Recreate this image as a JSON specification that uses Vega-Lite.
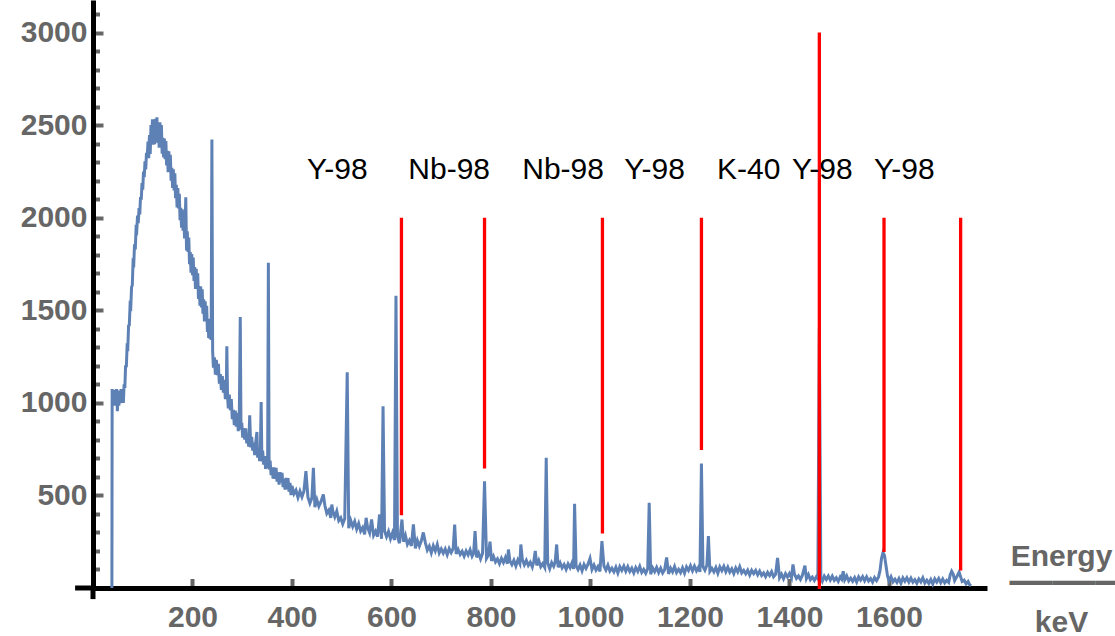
{
  "$schema": "https://vega.github.io/schema/vega-lite/v6.json",
  "width": 894,
  "height": 588,
  "autosize": "none",
  "padding": {"left": 93, "top": 0, "right": 128, "bottom": 48},
  "background": "white",
  "config": {"view": {"stroke": null}},
  "datasets": {
    "spectrum": [
      {"energy":38,"counts":0},{"energy":38.5,"counts":1075},{"energy":40,"counts":994},{"energy":41.5,"counts":1057},{"energy":43,"counts":985},{"energy":44.5,"counts":1070},{"energy":46,"counts":1008},{"energy":47.5,"counts":1075},{"energy":49,"counts":955},{"energy":50.5,"counts":1048},{"energy":52,"counts":985},{"energy":53.5,"counts":1066},{"energy":55,"counts":998},{"energy":56.5,"counts":1075},{"energy":58,"counts":1004},{"energy":59.5,"counts":1070},{"energy":61,"counts":1000},{"energy":62.5,"counts":1100},{"energy":64,"counts":1080},
      {"energy":65.5,"counts":1203},{"energy":67,"counts":1193},{"energy":68.5,"counts":1303},{"energy":70,"counts":1298},{"energy":71.5,"counts":1417},{"energy":73,"counts":1420},{"energy":74.5,"counts":1527},{"energy":76,"counts":1520},{"energy":77.5,"counts":1625},{"energy":79,"counts":1635},{"energy":80.5,"counts":1760},{"energy":82,"counts":1754},{"energy":83.5,"counts":1856},{"energy":85,"counts":1829},{"energy":86.5,"counts":1937},{"energy":88,"counts":1930},{"energy":89.5,"counts":2011},{"energy":91,"counts":1971},{"energy":92.5,"counts":2052},{"energy":94,"counts":2018},{"energy":95.5,"counts":2112},{"energy":97,"counts":2097},{"energy":98.5,"counts":2187},{"energy":100,"counts":2152},{"energy":101.5,"counts":2249},{"energy":103,"counts":2219},{"energy":104.5,"counts":2305},{"energy":106,"counts":2261},{"energy":107.5,"counts":2351},{"energy":109,"counts":2323},{"energy":110.5,"counts":2412},
      {"energy":112,"counts":2321},{"energy":113.5,"counts":2446},{"energy":115,"counts":2345},{"energy":116.5,"counts":2500},{"energy":118,"counts":2406},{"energy":119.5,"counts":2531},{"energy":121,"counts":2395},{"energy":122.5,"counts":2498},{"energy":124,"counts":2397},{"energy":125.5,"counts":2534},{"energy":127,"counts":2418},{"energy":128.5,"counts":2543},{"energy":130,"counts":2405},{"energy":131.5,"counts":2504},{"energy":133,"counts":2378},{"energy":134.5,"counts":2515},{"energy":136,"counts":2399},{"energy":137.5,"counts":2500},{"energy":139,"counts":2346},{"energy":140.5,"counts":2432},
      {"energy":142,"counts":2325},{"energy":143.5,"counts":2428},{"energy":145,"counts":2316},{"energy":146.5,"counts":2414},{"energy":148,"counts":2283},{"energy":149.5,"counts":2362},{"energy":151,"counts":2246},{"energy":152.5,"counts":2359},{"energy":154,"counts":2255},{"energy":155.5,"counts":2340},{"energy":157,"counts":2200},{"energy":158.5,"counts":2269},{"energy":160,"counts":2161},{"energy":161.5,"counts":2262},{"energy":163,"counts":2147},{"energy":164.5,"counts":2240},{"energy":166,"counts":2105},{"energy":167.5,"counts":2178},{"energy":169,"counts":2055},{"energy":170.5,"counts":2160},{"energy":172,"counts":2050},{"energy":173.5,"counts":2129},{"energy":175,"counts":1986},{"energy":176.5,"counts":2054},{"energy":178,"counts":1946},{"energy":179.5,"counts":2046},{"energy":181,"counts":1930},{"energy":182.5,"counts":2024},{"energy":184,"counts":1888},{"energy":185,"counts":1947},{"energy":186.5,"counts":2110},{"energy":188,"counts":1823},{"energy":189.5,"counts":1927},{"energy":191,"counts":1815},{"energy":192.5,"counts":1893},{"energy":194,"counts":1749},{"energy":195.5,"counts":1815},{"energy":197,"counts":1703},{"energy":198.5,"counts":1804},{"energy":200,"counts":1690},{"energy":201.5,"counts":1785},{"energy":203,"counts":1658},{"energy":204.5,"counts":1734},{"energy":206,"counts":1615},{"energy":207.5,"counts":1724},{"energy":209,"counts":1617},{"energy":210.5,"counts":1700},{"energy":212,"counts":1561},{"energy":213.5,"counts":1631},{"energy":215,"counts":1525},{"energy":216.5,"counts":1628},{"energy":218,"counts":1516},{"energy":219.5,"counts":1613},{"energy":221,"counts":1482},{"energy":222.5,"counts":1559},{"energy":224,"counts":1440},{"energy":225.5,"counts":1549},{"energy":227,"counts":1442},{"energy":228.5,"counts":1524},{"energy":230,"counts":1383},{"energy":231.5,"counts":1446},{"energy":232.5,"counts":1351},{"energy":233.5,"counts":1454},{"energy":235,"counts":1346},{"energy":236.5,"counts":1433},{"energy":237.5,"counts":1340},{"energy":239,"counts":2422},{"energy":240.5,"counts":1280},
      {"energy":242,"counts":1190},{"energy":244,"counts":1246},{"energy":246,"counts":1152},{"energy":248,"counts":1232},{"energy":250,"counts":1149},{"energy":252,"counts":1211},{"energy":254,"counts":1103},{"energy":256,"counts":1155},{"energy":258,"counts":1070},{"energy":260,"counts":1145},{"energy":262,"counts":1055},{"energy":264,"counts":1125},{"energy":266,"counts":1020},{"energy":268,"counts":1075},{"energy":269,"counts":1306},{"energy":270.5,"counts":1030},{"energy":272,"counts":970},{"energy":274,"counts":1045},{"energy":276,"counts":960},{"energy":278,"counts":1021},{"energy":280,"counts":912},{"energy":282,"counts":962},{"energy":284,"counts":879},{"energy":286,"counts":958},{"energy":288,"counts":871},{"energy":290,"counts":946},{"energy":292,"counts":847},{"energy":294,"counts":908},{"energy":296,"counts":1464},{"energy":297.5,"counts":855},
      {"energy":299,"counts":892},{"energy":301,"counts":812},{"energy":303,"counts":864},{"energy":305,"counts":802},{"energy":307,"counts":862},{"energy":309,"counts":781},{"energy":311,"counts":823},{"energy":313,"counts":763},{"energy":315,"counts":933},{"energy":317,"counts":759},{"energy":319,"counts":817},{"energy":321,"counts":742},{"energy":323,"counts":785},{"energy":325,"counts":718},{"energy":327,"counts":784},{"energy":329.5,"counts":843},{"energy":331,"counts":704},{"energy":333,"counts":746},{"energy":335,"counts":686},{"energy":336.5,"counts":749},{"energy":338,"counts":1005},{"energy":339.5,"counts":683},{"energy":341,"counts":742},{"energy":343,"counts":666},{"energy":345,"counts":712},{"energy":347,"counts":644},{"energy":349,"counts":709},{"energy":351,"counts":649},{"energy":352.5,"counts":1757},{"energy":354,"counts":640},{"energy":356,"counts":688},{"energy":358,"counts":609},{"energy":360,"counts":651},{"energy":362,"counts":591},{"energy":364,"counts":652},{"energy":366,"counts":589},{"energy":368,"counts":649},{"energy":370,"counts":575},{"energy":372,"counts":624},{"energy":374,"counts":558},{"energy":376,"counts":626},{"energy":378,"counts":569},{"energy":380,"counts":622},{"energy":382,"counts":545},{"energy":384,"counts":590},{"energy":386,"counts":532},{"energy":388,"counts":595},{"energy":390,"counts":533},{"energy":392,"counts":593},{"energy":394,"counts":520},{"energy":396,"counts":568},{"energy":398,"counts":502},
      {"energy":400,"counts":551},{"energy":404,"counts":509},{"energy":408,"counts":528},{"energy":412,"counts":489},{"energy":416,"counts":523},{"energy":420,"counts":492},{"energy":424,"counts":523},{"energy":428,"counts":631},{"energy":432,"counts":491},{"energy":436,"counts":458},{"energy":440,"counts":487},{"energy":443,"counts":649},{"energy":446,"counts":437},{"energy":450,"counts":477},{"energy":454,"counts":441},{"energy":458,"counts":465},{"energy":463,"counts":505},{"energy":466,"counts":447},{"energy":470,"counts":403},{"energy":474,"counts":420},{"energy":478,"counts":379},{"energy":480,"counts":451},{"energy":482,"counts":416},{"energy":486,"counts":384},{"energy":490,"counts":415},{"energy":494,"counts":364},{"energy":498,"counts":379},{"energy":502,"counts":346},{"energy":506,"counts":374},{"energy":511,"counts":1165},{"energy":514,"counts":323},{"energy":518,"counts":365},{"energy":522,"counts":332},{"energy":526,"counts":360},{"energy":530,"counts":318},{"energy":534,"counts":348},{"energy":538,"counts":307},{"energy":542,"counts":326},{"energy":546,"counts":290},{"energy":549,"counts":379},{"energy":552,"counts":326},{"energy":556,"counts":298},{"energy":560,"counts":370},{"energy":564,"counts":284},{"energy":568,"counts":306},{"energy":572,"counts":277},{"energy":576,"counts":397},{"energy":580,"counts":266},{"energy":583,"counts":982},{"energy":586,"counts":308},{"energy":590,"counts":277},{"energy":594,"counts":306},{"energy":598,"counts":266},{"energy":602,"counts":298},{"energy":606,"counts":259},{"energy":609,"counts":1579},{"energy":612,"counts":278},{"energy":616,"counts":242},{"energy":621,"counts":370},{"energy":624,"counts":250},{"energy":628,"counts":284},{"energy":632,"counts":236},{"energy":636,"counts":257},{"energy":640,"counts":227},{"energy":644,"counts":343},{"energy":648,"counts":214},{"energy":652,"counts":257},{"energy":656,"counts":226},{"energy":660,"counts":255},{"energy":664,"counts":300},{"energy":668,"counts":245},{"energy":672,"counts":205},{"energy":676,"counts":226},{"energy":680,"counts":190},{"energy":684,"counts":228},{"energy":688,"counts":200},{"energy":692,"counts":235},{"energy":696,"counts":189},{"energy":700,"counts":211},
      {"energy":704,"counts":188},{"energy":708,"counts":211},{"energy":712,"counts":180},{"energy":716,"counts":213},{"energy":720,"counts":191},{"energy":724,"counts":214},{"energy":727,"counts":343},{"energy":730,"counts":184},{"energy":734,"counts":208},{"energy":738,"counts":181},{"energy":742,"counts":198},{"energy":746,"counts":172},{"energy":750,"counts":200},{"energy":754,"counts":179},{"energy":758,"counts":206},{"energy":762,"counts":171},{"energy":765,"counts":187},{"energy":768,"counts":307},{"energy":771,"counts":166},{"energy":775,"counts":189},{"energy":779,"counts":157},{"energy":783,"counts":187},{"energy":787,"counts":577},{"energy":791,"counts":160},{"energy":795,"counts":180},{"energy":798,"counts":250},{"energy":801,"counts":147},{"energy":805,"counts":171},{"energy":809,"counts":141},{"energy":813,"counts":157},{"energy":817,"counts":131},{"energy":821,"counts":160},{"energy":825,"counts":138},{"energy":829,"counts":165},{"energy":833,"counts":131},{"energy":835,"counts":208},{"energy":838,"counts":146},{"energy":842,"counts":126},{"energy":846,"counts":150},{"energy":850,"counts":119},{"energy":854,"counts":152},{"energy":858,"counts":131},{"energy":860,"counts":235},{"energy":863,"counts":154},{"energy":867,"counts":125},{"energy":871,"counts":149},{"energy":875,"counts":122},{"energy":879,"counts":139},{"energy":883,"counts":113},{"energy":886,"counts":143},{"energy":889,"counts":200},{"energy":892,"counts":122},{"energy":896,"counts":149},{"energy":900,"counts":115},{"energy":904,"counts":131},{"energy":908,"counts":111},{"energy":911,"counts":703},{"energy":914,"counts":134},{"energy":918,"counts":104},{"energy":922,"counts":137},{"energy":926,"counts":117},{"energy":929,"counts":140},{"energy":932,"counts":235},{"energy":935,"counts":112},{"energy":939,"counts":136},{"energy":943,"counts":109},{"energy":947,"counts":127},{"energy":951,"counts":101},{"energy":955,"counts":130},{"energy":959,"counts":110},{"energy":963,"counts":137},{"energy":966,"counts":103},{"energy":968,"counts":455},{"energy":971,"counts":120},{"energy":975,"counts":100},{"energy":979,"counts":124},{"energy":983,"counts":93},{"energy":987,"counts":127},{"energy":991,"counts":106},{"energy":995,"counts":129},{"energy":999,"counts":160},{"energy":1003,"counts":100},{"energy":1007,"counts":124},{"energy":1011,"counts":97},{"energy":1015,"counts":115},{"energy":1019,"counts":89},{"energy":1023,"counts":253},{"energy":1027,"counts":118},{"energy":1031,"counts":97},{"energy":1035,"counts":124},{"energy":1039,"counts":91},{"energy":1043,"counts":107},{"energy":1047,"counts":87},{"energy":1051,"counts":112},{"energy":1055,"counts":81},{"energy":1059,"counts":115},{"energy":1063,"counts":95},{"energy":1067,"counts":118},{"energy":1071,"counts":90},{"energy":1075,"counts":115},{"energy":1079,"counts":89},{"energy":1083,"counts":107},{"energy":1087,"counts":81},{"energy":1091,"counts":110},{"energy":1095,"counts":90},{"energy":1099,"counts":117},{"energy":1103,"counts":84},{"energy":1107,"counts":100},{"energy":1111,"counts":80},{"energy":1115,"counts":105},{"energy":1118,"counts":460},{"energy":1121,"counts":74},{"energy":1125,"counts":108},{"energy":1129,"counts":88},{"energy":1133,"counts":111},{"energy":1137,"counts":83},{"energy":1141,"counts":107},{"energy":1145,"counts":81},{"energy":1149,"counts":99},{"energy":1153,"counts":165},{"energy":1157,"counts":76},{"energy":1161,"counts":107},{"energy":1165,"counts":87},{"energy":1169,"counts":116},{"energy":1173,"counts":84},{"energy":1177,"counts":101},{"energy":1181,"counts":83},{"energy":1185,"counts":109},{"energy":1189,"counts":80},{"energy":1193,"counts":114},{"energy":1197,"counts":95},{"energy":1201,"counts":120},{"energy":1205,"counts":93},{"energy":1209,"counts":118},{"energy":1213,"counts":93},{"energy":1217,"counts":112},{"energy":1220,"counts":87},{"energy":1223,"counts":672},{"energy":1226,"counts":116},{"energy":1230,"counts":96},{"energy":1234,"counts":124},{"energy":1237,"counts":280},{"energy":1240,"counts":90},{"energy":1244,"counts":106},{"energy":1248,"counts":87},{"energy":1252,"counts":111},{"energy":1256,"counts":80},{"energy":1260,"counts":114},{"energy":1264,"counts":94},{"energy":1268,"counts":117},{"energy":1272,"counts":88},{"energy":1276,"counts":113},{"energy":1280,"counts":86},{"energy":1284,"counts":104},{"energy":1288,"counts":78},{"energy":1292,"counts":108},{"energy":1296,"counts":87},{"energy":1300,"counts":115},
      {"energy":1304,"counts":82},{"energy":1308,"counts":95},{"energy":1312,"counts":77},{"energy":1316,"counts":96},{"energy":1320,"counts":70},{"energy":1324,"counts":96},{"energy":1328,"counts":78},{"energy":1332,"counts":95},{"energy":1336,"counts":71},{"energy":1340,"counts":91},{"energy":1344,"counts":68},{"energy":1348,"counts":81},{"energy":1352,"counts":61},{"energy":1356,"counts":84},{"energy":1360,"counts":67},{"energy":1364,"counts":88},{"energy":1368,"counts":60},{"energy":1372,"counts":73},{"energy":1376,"counts":163},{"energy":1380,"counts":55},{"energy":1384,"counts":75},{"energy":1388,"counts":50},{"energy":1392,"counts":77},{"energy":1396,"counts":59},{"energy":1400,"counts":78},{"energy":1404,"counts":55},{"energy":1407,"counts":127},{"energy":1410,"counts":75},{"energy":1414,"counts":52},{"energy":1418,"counts":65},{"energy":1422,"counts":46},{"energy":1426,"counts":69},{"energy":1431,"counts":121},{"energy":1434,"counts":51},{"energy":1438,"counts":73},{"energy":1442,"counts":45},{"energy":1446,"counts":59},{"energy":1450,"counts":41},{"energy":1454,"counts":61},{"energy":1457,"counts":50},{"energy":1460,"counts":1400},{"energy":1463,"counts":55},{"energy":1466,"counts":36},{"energy":1470,"counts":64},{"energy":1474,"counts":46},{"energy":1478,"counts":65},{"energy":1482,"counts":43},{"energy":1486,"counts":64},{"energy":1490,"counts":41},{"energy":1494,"counts":55},{"energy":1498,"counts":36},{"energy":1502,"counts":60},{"energy":1505,"counts":48},{"energy":1508,"counts":91},{"energy":1511,"counts":44},{"energy":1515,"counts":65},{"energy":1519,"counts":38},{"energy":1523,"counts":53},{"energy":1527,"counts":36},{"energy":1531,"counts":56},{"energy":1535,"counts":32},{"energy":1539,"counts":60},{"energy":1543,"counts":43},{"energy":1547,"counts":61},{"energy":1551,"counts":39},{"energy":1555,"counts":60},{"energy":1559,"counts":38},{"energy":1563,"counts":51},{"energy":1567,"counts":32},{"energy":1571,"counts":56},{"energy":1575,"counts":40},{"energy":1579,"counts":60},{"energy":1582,"counts":95},{"energy":1585,"counts":160},{"energy":1588,"counts":192},{"energy":1591,"counts":175},{"energy":1594,"counts":120},{"energy":1597,"counts":65},{"energy":1600,"counts":39},{"energy":1604,"counts":61},{"energy":1608,"counts":33},{"energy":1612,"counts":48},{"energy":1616,"counts":30},{"energy":1620,"counts":51},{"energy":1624,"counts":26},{"energy":1628,"counts":54},{"energy":1632,"counts":36},{"energy":1636,"counts":55},{"energy":1640,"counts":32},{"energy":1644,"counts":53},{"energy":1648,"counts":31},{"energy":1652,"counts":45},{"energy":1656,"counts":26},{"energy":1660,"counts":49},{"energy":1664,"counts":33},{"energy":1668,"counts":55},{"energy":1672,"counts":27},{"energy":1676,"counts":42},{"energy":1680,"counts":25},{"energy":1684,"counts":46},{"energy":1688,"counts":21},{"energy":1692,"counts":49},{"energy":1696,"counts":32},{"energy":1700,"counts":51},{"energy":1704,"counts":29},{"energy":1708,"counts":49},{"energy":1712,"counts":27},{"energy":1716,"counts":41},{"energy":1720,"counts":30},{"energy":1723,"counts":70},{"energy":1726,"counts":90},{"energy":1729,"counts":75},{"energy":1732,"counts":40},{"energy":1735,"counts":55},{"energy":1738,"counts":70},{"energy":1741,"counts":86},{"energy":1744,"counts":60},{"energy":1747,"counts":35},{"energy":1751,"counts":42},{"energy":1755,"counts":22},{"energy":1759,"counts":35},{"energy":1762,"counts":18},{"energy":1765,"counts":12}
    ],
    "lines": [
      {"energy":620,"top":2000,"bottom":393},
      {"energy":787,"top":2000,"bottom":646},
      {"energy":1024,"top":2000,"bottom":295},
      {"energy":1223,"top":2000,"bottom":745},
      {"energy":1460,"top":3000,"bottom":-5},
      {"energy":1590,"top":2000,"bottom":194},
      {"energy":1744,"top":2000,"bottom":95}
    ],
    "labels": [
      {"energy":491,"counts":2207,"label":"Y-98"},
      {"energy":716,"counts":2207,"label":"Nb-98"},
      {"energy":945,"counts":2207,"label":"Nb-98"},
      {"energy":1129,"counts":2207,"label":"Y-98"},
      {"energy":1318,"counts":2207,"label":"K-40"},
      {"energy":1466,"counts":2207,"label":"Y-98"},
      {"energy":1631,"counts":2207,"label":"Y-98"}
    ]
  },
  "layer": [
    {
      "data": {"name": "spectrum"},
      "mark": {"type": "line", "color": "#5E81B5", "strokeWidth": 3},
      "encoding": {
        "x": {
          "field": "energy", "type": "quantitative",
          "scale": {"domain": [0, 1797], "nice": false, "zero": false},
          "axis": {
            "values": [200, 400, 600, 800, 1000, 1200, 1400, 1600],
            "tickCount": 20,
            "format": "d",
            "grid": false,
            "domainColor": "black", "domainWidth": 5,
            "tickColor": "#666666", "tickWidth": 4, "tickSize": -9.5,
            "labelFont": "Liberation Sans", "labelFontSize": 30, "labelFontWeight": "bold",
            "labelColor": "#666666", "labelPadding": 23.5, "labelFlush": false, "labelOverlap": false,
            "title": ["Energy", "keV"],
            "titleFont": "Liberation Sans", "titleFontSize": 30, "titleFontWeight": "bold",
            "titleColor": "#666666", "titleX": 968, "titleY": -23, "titleAlign": "center",
            "titleBaseline": "alphabetic", "titleAngle": 0, "titleLineHeight": 66.7
          }
        },
        "y": {
          "field": "counts", "type": "quantitative",
          "scale": {"domain": [0, 3176], "nice": false, "zero": false},
          "axis": {
            "values": [100,200,300,400,500,600,700,800,900,1000,1100,1200,1300,1400,1500,1600,1700,1800,1900,2000,2100,2200,2300,2400,2500,2600,2700,2800,2900,3000,3100],
            "tickCount": 40,
            "format": "d",
            "grid": true,
            "gridColor": "#666666", "gridWidth": 4,
            "gridDash": {"condition": {"test": "datum.value % 500 === 0", "value": [10, 2000]}, "value": [6.5, 2000]},
            "ticks": false,
            "domainColor": "black", "domainWidth": 5,
            "labelExpr": "datum.value % 500 === 0 ? datum.label : ''",
            "labelFont": "Liberation Sans", "labelFontSize": 30, "labelFontWeight": "bold",
            "labelColor": "#666666", "labelPadding": 6, "labelOverlap": false,
            "title": "———",
            "titleFont": "Liberation Sans", "titleFontSize": 43, "titleFontWeight": "bold",
            "titleColor": "#666666", "titleX": 916, "titleY": 593, "titleAlign": "left",
            "titleBaseline": "alphabetic", "titleAngle": 0
          }
        }
      }
    },
    {
      "data": {"values": [{}]},
      "mark": {"type": "rule", "color": "black", "strokeWidth": 5},
      "encoding": {"x": {"datum": -36}, "x2": {"datum": 0}, "y": {"datum": 0}}
    },
    {
      "data": {"values": [{}]},
      "mark": {"type": "rule", "color": "black", "strokeWidth": 5},
      "encoding": {"x": {"datum": 0}, "y": {"datum": -60}, "y2": {"datum": 0}}
    },
    {
      "data": {"name": "lines"},
      "mark": {"type": "rule", "color": "#ff0000", "strokeWidth": 3.3},
      "encoding": {
        "x": {"field": "energy", "type": "quantitative"},
        "y": {"field": "top", "type": "quantitative"},
        "y2": {"field": "bottom"}
      }
    },
    {
      "data": {"name": "labels"},
      "mark": {"type": "text", "font": "Liberation Sans", "fontSize": 30, "color": "black", "align": "center", "baseline": "alphabetic"},
      "encoding": {
        "x": {"field": "energy", "type": "quantitative"},
        "y": {"field": "counts", "type": "quantitative"},
        "text": {"field": "label"}
      }
    }
  ]
}
